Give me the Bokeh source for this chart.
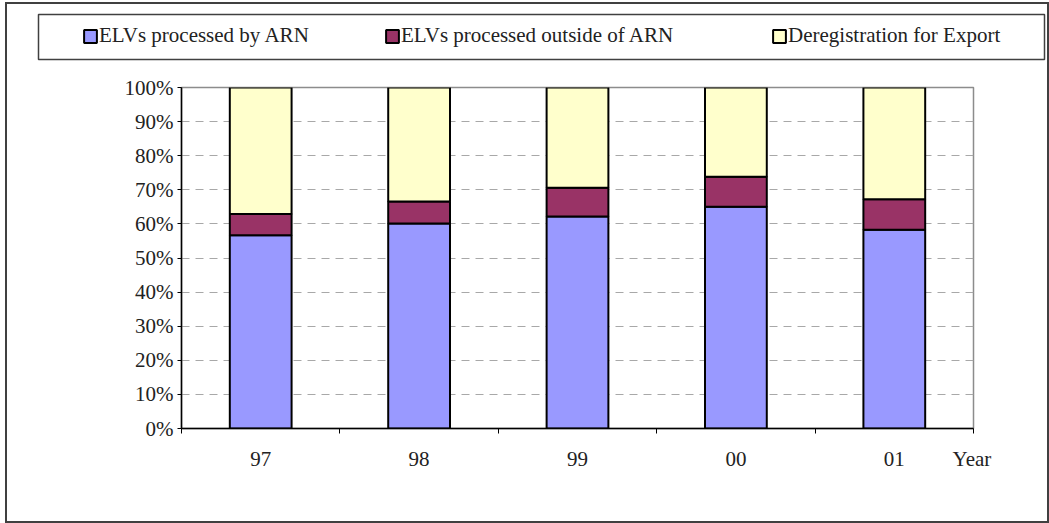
from bokeh.plotting import figure
from bokeh.layouts import column
from bokeh.models import (ColumnDataSource, FixedTicker, Legend, LegendItem,
                          PrintfTickFormatter, Range1d)
from bokeh.embed import file_html
from bokeh.resources import INLINE

# ---- data (percent of total) ----
years = ["97", "98", "99", "00", "01"]
by_arn = [56.7, 60.1, 62.2, 65.0, 58.3]
outside_arn = [6.2, 6.5, 8.4, 8.8, 8.9]
export = [37.1, 33.4, 29.4, 26.2, 32.8]
series_names = ["ELVs processed by ARN", "ELVs processed outside of ARN", "Deregistration for Export"]
series_cols = ["by_arn", "outside_arn", "export"]
colors = ["#9999FF", "#993366", "#FFFFCC"]
y_ticks = [0, 10, 20, 30, 40, 50, 60, 70, 80, 90, 100]
x_label = "Year"

FONT = "Liberation Serif"
TXT = "#222222"
W = 1040

xs = [i + 0.5 for i in range(len(years))]
source = ColumnDataSource(dict(x=xs, by_arn=by_arn, outside_arn=outside_arn, export=export))

# ---------------- legend strip ----------------
leg = figure(width=W, height=66, output_backend="svg", toolbar_location=None,
             x_range=Range1d(0, len(years)), y_range=Range1d(0, 100),
             x_axis_type=None, y_axis_type=None,
             min_border_left=31, min_border_right=3, min_border_top=10, min_border_bottom=11)
leg.frame_align = False
leg.grid.visible = False
leg.outline_line_color = "#404040"
leg.outline_line_width = 1.5
leg.background_fill_color = "white"
leg.border_fill_color = "white"

legend_x = [44, 346, 733]
for i, (name, col, c) in enumerate(zip(series_names, series_cols, colors)):
    # hidden proxy renderer, only used to draw the legend swatch
    r = leg.vbar(x="x", top=col, width=0.39, source=source, fill_color=c,
                 line_color="black", line_width=2, visible=False)
    lg = Legend(items=[LegendItem(label=name, renderers=[r])],
                location=(legend_x[i], 11), orientation="horizontal",
                border_line_color=None, background_fill_alpha=0,
                inactive_fill_alpha=0,
                padding=0, margin=0, spacing=0,
                glyph_width=16, glyph_height=16, label_standoff=1,
                label_text_font=FONT, label_text_font_size="21px",
                label_text_color=TXT)
    leg.add_layout(lg)

# ---------------- main chart ----------------
p = figure(width=W, height=451, output_backend="svg", toolbar_location=None,
           x_range=Range1d(0, len(years)), y_range=Range1d(0, 100),
           min_border_left=174, min_border_right=74, min_border_top=17, min_border_bottom=93)
p.frame_align = False
p.background_fill_color = "white"
p.border_fill_color = "white"
p.outline_line_color = "#8c8c8c"
p.outline_line_width = 1.5

p.vbar_stack(series_cols, x="x", width=0.39, source=source,
             fill_color=colors, line_color="black", line_width=2)

p.xgrid.grid_line_color = None
p.ygrid.ticker = FixedTicker(ticks=y_ticks)
p.ygrid.grid_line_color = "#a8a8a8"
p.ygrid.grid_line_dash = "8 6"
p.ygrid.grid_line_width = 1

ya = p.yaxis[0]
ya.ticker = FixedTicker(ticks=y_ticks)
ya.formatter = PrintfTickFormatter(format="%d%%")
ya.major_tick_out = 4
ya.major_tick_in = 0
ya.minor_tick_line_color = None
ya.axis_line_color = "black"
ya.axis_line_width = 1.5
ya.major_tick_line_color = "black"
ya.major_label_standoff = 4
ya.major_label_text_font = FONT
ya.major_label_text_font_size = "21px"
ya.major_label_text_color = TXT

# x axis: labels at category centres, tick marks at category boundaries,
# axis title "Year" written at the right end of the label row
year_pos = len(years) - 0.01
xa = p.xaxis[0]
xa.ticker = FixedTicker(ticks=xs + [year_pos], minor_ticks=list(range(len(years) + 1)))
overrides = {x: y for x, y in zip(xs, years)}
overrides[year_pos] = x_label
xa.major_label_overrides = overrides
xa.major_tick_line_color = None
xa.minor_tick_line_color = "black"
xa.minor_tick_out = 5
xa.minor_tick_in = 0
xa.axis_line_color = "black"
xa.axis_line_width = 1.5
xa.major_label_standoff = 12
xa.major_label_text_font = FONT
xa.major_label_text_font_size = "21px"
xa.major_label_text_color = TXT

layout = column(leg, p, spacing=0,
                styles={"border": "2px solid #404040", "margin-left": "5px", "margin-top": "2px"})

open("out.html", "w").write(file_html(layout, INLINE))
